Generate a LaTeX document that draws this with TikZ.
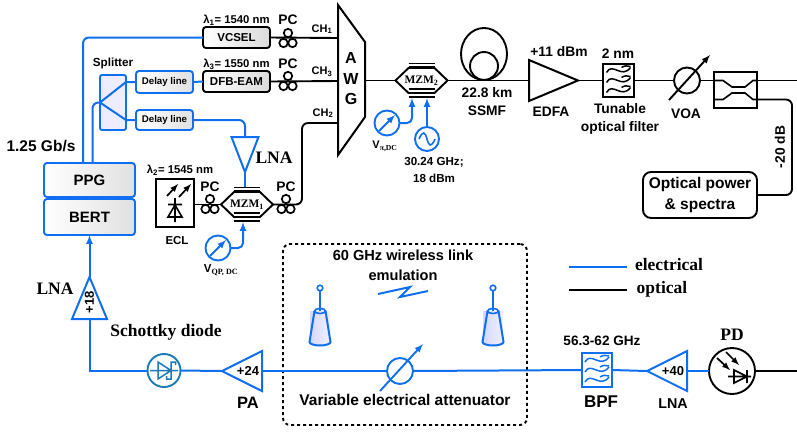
\documentclass[tikz,border=0pt]{standalone}
\usepackage{fontspec}
\setmainfont{Liberation Sans}
\newfontfamily\timesfont{Liberation Serif}
\usetikzlibrary{positioning,shapes.geometric}
\definecolor{elblue}{HTML}{0F6FF0}
\definecolor{diodeblue}{HTML}{1A7ABA}
\tikzset{
    optline/.style={black, line width=1.9pt},
    elline/.style={elblue, line width=2pt},
    ampbox/.style={isosceles triangle, isosceles triangle stretches, draw, line width=2pt, inner sep=0pt, outer sep=0pt},
    devbox/.style={draw, black, line width=1.9pt, rounded corners=3pt, left color=white, right color=black!14, inner sep=0pt, outer sep=0pt},
    elbox/.style={draw=elblue, line width=1.9pt, rounded corners=3pt, left color=white, right color=black!12, inner sep=0pt, outer sep=0pt},
    dialbox/.style={circle, draw, line width=1.9pt, inner sep=0pt, outer sep=0pt},
    labs/.style={inner sep=0pt, font=\bfseries\fontsize{11}{12}\selectfont},
    labm/.style={inner sep=0pt, align=center, font=\bfseries\fontsize{13.8}{18}\selectfont},
    labl/.style={inner sep=0pt, align=center, font=\bfseries\fontsize{15.5}{21}\selectfont},
    labt/.style={inner sep=0pt, font=\timesfont\bfseries\fontsize{17.5}{18}\selectfont},
}
% polarisation controller
\newcommand{\pcoil}[3]{
    \coordinate (#1) at (#2,#3);
    \draw[black, line width=1.7pt] (#2,#3-5) circle[radius=4.2] (#2-4.5,#3+5) circle[radius=4.2] (#2+4.5,#3+5) circle[radius=4.2];
}
% modulator: name, x, y, subscript
\newcommand{\mzm}[4]{
    \node[minimum width=52pt, minimum height=25pt, inner sep=0pt, outer sep=0pt] (#1) at (#2,#3) {\timesfont\bfseries\fontsize{11.5}{12}\selectfont MZM\textsubscript{#4}};
    \draw[black, line width=1.9pt] (#1.west) -- ++(13,-12.5) -- ++(26,0) -- (#1.east) -- ++(-13,12.5) -- ++(-26,0) -- cycle;
    \foreach \yy in {-17,-14,8.5,16.5} \draw[black, line width=1.6pt] (#2-13,#3+\yy) -- (#2+13,#3+\yy);
}
% filter with three waves
\newcommand{\waves}[3]{
    \foreach \yy in {-10,0,10} {
        \draw[#3, line width=1.5pt] (#1-12,#2+\yy+2) .. controls (#1-6,#2+\yy-9) and (#1+3,#2+\yy+9) .. (#1+12,#2+\yy-3);
        \draw[#3, line width=1.5pt] (#1+3,#2+\yy-3) .. controls (#1+6,#2+\yy-5) and (#1+9,#2+\yy-5) .. (#1+12,#2+\yy-4);
    }
}
% horn antenna
\newcommand{\horn}[2]{
    \fill[left color=blue!16!white, right color=blue!6!white] (#1-10,#2) rectangle (#1+10,#2+33);
    \draw[elline] (#1-5.5,#2) -- (#1-10.5,#2+31) arc[start angle=180, end angle=360, x radius=10.5, y radius=-3.5] -- (#1+5.5,#2);
    \draw[elline, line width=1.6pt] (#1,#2) circle[x radius=5.5, y radius=2.5];
    \draw[elline, line width=1.6pt] (#1,#2) -- (#1,#2-20);
    \draw[elline, line width=1.6pt] (#1,#2-23) circle[radius=2.8];
}
\begin{document}
\begin{tikzpicture}[>=latex, x=1pt, y=-1pt]
    \useasboundingbox (0,0) rectangle (797,432);
    % Transmitters
    \node[devbox, minimum width=67pt, minimum height=21pt, font=\bfseries\fontsize{11.5}{12}\selectfont] (vcsel) at (236.5,37.5) {VCSEL};
    \node[devbox, minimum width=67pt, minimum height=21pt, font=\bfseries\fontsize{11.5}{12}\selectfont] (dfb) at (236.5,81.5) {DFB-EAM};
    \node[labs, font=\bfseries\fontsize{11.3}{12}\selectfont] (lab1) at (236.5,20) {λ\textsubscript{1}= 1540 nm};
    \node[labs, font=\bfseries\fontsize{11.3}{12}\selectfont] (lab3) at (236.5,64) {λ\textsubscript{3}= 1550 nm};
    \node[labs, font=\bfseries\fontsize{11.3}{12}\selectfont] (lab2) at (180,170) {λ\textsubscript{2}= 1545 nm};
    \node[labm] (pclab1) at (288,20) {PC};
    \node[labm] (pclab3) at (288,64) {PC};
    \node[labm] (pclab2) at (210,187) {PC};
    \node[labm] (pclab4) at (286,187) {PC};
    \node[labs] (chlab1) at (322,29) {CH\textsubscript{1}};
    \node[labs] (chlab3) at (322,72) {CH\textsubscript{3}};
    \node[labs] (chlab2) at (323,113) {CH\textsubscript{2}};
    \pcoil{pc1}{288}{38}
    \pcoil{pc3}{288}{81}
    \pcoil{pc2}{210}{204}
    \pcoil{pc4}{286}{204}
    % AWG
    \coordinate (awga) at (338,38);
    \coordinate (awgb) at (338,81);
    \coordinate (awgc) at (338,123);
    \coordinate (awgout) at (365,80.5);
    \draw[black, line width=2pt] (338,5) -- (365,42) -- (365,117) -- (338,155) -- cycle;
    \node[labl, font=\bfseries\fontsize{16}{20.5}\selectfont] (awglab) at (351,79) {A\\W\\G};
    \draw[optline] (vcsel.east) -- (awga);
    \draw[optline] (dfb.east) -- (awgb);
    % PPG and BERT
    \node[elbox, minimum width=91pt, minimum height=34pt, font=\bfseries\fontsize{15}{15}\selectfont] (ppg) at (89.5,180) {PPG};
    \node[elbox, minimum width=91pt, minimum height=36pt, font=\bfseries\fontsize{15}{15}\selectfont] (bert) at (89.5,217) {BERT};
    \node[labl] (rate) at (41,146) {1.25 Gb/s};
    % Splitter and delay lines
    \node[elbox, left color=blue!7!white, right color=blue!7!white, minimum width=26pt, minimum height=55pt, rounded corners=2pt] (split) at (113,102.5) {};
    \node[labs, font=\bfseries\fontsize{11.7}{12}\selectfont] (splitlab) at (113,63) {Splitter};
    \node[elbox, minimum width=57pt, minimum height=22pt, font=\bfseries\fontsize{9.7}{10}\selectfont] (dlya) at (164.5,82) {Delay line};
    \node[elbox, minimum width=57pt, minimum height=20pt, font=\bfseries\fontsize{9.7}{10}\selectfont] (dlyb) at (164.5,120) {Delay line};
    \draw[elline, rounded corners=6pt] (vcsel.west) -| ([xshift=-6.5pt]ppg.north);
    \draw[elline, rounded corners=6pt] ([xshift=3pt]ppg.north) |- (split.west);
    \draw[elline] (split.west) -- (split.east |- dlya.west) -- (dlya.west);
    \draw[elline] (split.west) -- (split.east |- dlyb.west) -- (dlyb.west);
    \draw[elline] (dlya.east) -- (dfb.west);
    % Driver of MZM1
    \node[ampbox, draw=elblue, shape border rotate=-90, minimum height=35pt, minimum width=27pt, anchor=apex] (lnaa) at (245,172) {};
    \node[labt] (lnaalab) at (274,158) {LNA};
    \draw[elline, rounded corners=6pt] (dlyb.east) -| (lnaa.lower side);
    \mzm{mzma}{247}{204.5}{1}
    \coordinate (mzmatop) at (245,187);
    \draw[elline] (lnaa.apex) -- (mzmatop);
    % ECL
    \node[draw, black, line width=2.2pt, minimum width=38pt, minimum height=48pt, inner sep=0pt, outer sep=0pt] (ecl) at (175,203) {};
    \node[labs, font=\bfseries\fontsize{11.5}{12}\selectfont] (ecllab) at (177,241) {ECL};
    \draw[->, black, line width=1.7pt] (167,196) -- (178,184);
    \draw[->, black, line width=1.7pt] (179,197) -- (191,184);
    \draw[black, line width=1.6pt] (175,198) -- (175,222) (168,204.5) -- (182,204.5) (175,205) -- (168,217) -- (182,217) -- cycle;
    \draw[optline] (ecl.east |- mzma.west) -- (mzma.west);
    \coordinate (mzmabend) at (302,204.5);
    \draw[optline, rounded corners=6pt] (mzma.east) -- (mzmabend) |- (awgc);
    % Bias of MZM1
    \node[dialbox, draw=elblue, minimum size=25pt] (vqp) at (218,248) {};
    \draw[->, elblue, line width=1.9pt] (210,256) -- (226,240);
    \coordinate (mzmabias) at (243,222);
    \draw[->, elline, rounded corners=5pt] (vqp.east) -| (mzmabias);
    \node[inner sep=0pt] (vqplab) at (221,270) {\bfseries\fontsize{11.5}{12}\selectfont V\textsubscript{\timesfont QP, DC}};
    % MZM2 and its drive
    \mzm{mzmb}{421.5}{80.5}{2}
    \draw[optline] (awgout) -- (mzmb.west);
    \node[dialbox, draw=elblue, minimum size=25pt] (vpi) at (387,123) {};
    \draw[->, elblue, line width=1.9pt] (379,131) -- (395,115);
    \coordinate (mzmbbias) at (412,98);
    \draw[->, elline, rounded corners=5pt] (vpi.east) -| (mzmbbias);
    \node[inner sep=0pt] (vpilab) at (385,146) {\bfseries\fontsize{11}{12}\selectfont V\textsubscript{\timesfont π,DC}};
    \node[dialbox, draw=elblue, minimum size=24pt] (osc) at (427,139) {};
    \draw[elline, line width=1.6pt] (419,139) .. controls (423,130) and (425,132) .. (427,139) .. controls (429,146) and (431,148) .. (435,139);
    \coordinate (mzmbrf) at (427,98);
    \draw[->, elline] (osc.north) -- (mzmbrf);
    \node[labs, align=center, font=\bfseries\fontsize{11.6}{16.5}\selectfont] (osclab) at (434,170) {30.24 GHz;\\18 dBm};
    % Fibre span and EDFA
    \coordinate (ssmfc) at (484,54);
    \draw[black, line width=1.9pt] (ssmfc) circle[x radius=23, y radius=26];
    \draw[black, line width=1.9pt] (484,66) circle[radius=14];
    \node[labm] (ssmflab) at (487,102) {22.8 km\\SSMF};
    \node[ampbox, black, shape border rotate=0, minimum height=49pt, minimum width=41pt, anchor=apex] (edfa) at (578,80.5) {};
    \node[labm] (edfapow) at (559,52) {+11 dBm};
    \node[labm] (edfalab) at (551,112) {EDFA};
    \draw[optline] (mzmb.east) -- (edfa.lower side);
    % Filter, VOA and coupler
    \node[draw, black, line width=1.9pt, minimum width=31pt, minimum height=33pt, inner sep=0pt, outer sep=0pt] (tof) at (618.5,80.5) {};
    \waves{618.5}{80.5}{black}
    \node[labm] (toflab) at (618,54) {2 nm};
    \node[labm] (toflabb) at (620,119) {Tunable\\optical filter};
    \node[dialbox, black, minimum size=26pt] (voa) at (687,80.5) {};
    \draw[->, black, line width=1.9pt] (669,100) -- (710,55);
    \node[labm] (voalab) at (686,114) {VOA};
    \node[draw, black, line width=1.9pt, minimum width=43pt, minimum height=36pt, inner sep=0pt, outer sep=0pt] (coup) at (735.5,90) {};
    \coordinate (coupa) at (757,80.5);
    \coordinate (coupb) at (757,99.5);
    \coordinate (coupc) at (797,80.5);
    \coordinate (coupd) at (792,99.5);
    \draw[black, line width=1.6pt] (714,80.5) -- (723,80.5) -- (732,87) -- (745,87) -- (753,80.5) -- (coupa);
    \draw[black, line width=1.6pt] (714,99.5) -- (723,99.5) -- (732,93) -- (745,93) -- (753,99.5) -- (coupb);
    \draw[optline] (edfa.apex) -- (tof.west);
    \draw[optline] (tof.east) -- (voa.west);
    \draw[optline] (voa.east) -- (coup.west |- voa.east);
    \draw[optline] (coupa) -- (coupc);
    % Monitor
    \node[draw, black, line width=1.9pt, rounded corners=8pt, minimum width=114pt, minimum height=46pt, inner sep=0pt, outer sep=0pt, align=center, font=\bfseries\fontsize{15.5}{21}\selectfont] (optp) at (700,195) {Optical power\\\& spectra};
    \draw[optline, rounded corners=6pt] (coupb) -- (coupd) |- (optp.east);
    \node[labm, rotate=90] (mondb) at (780,147) {-20 dB};
    % Wireless link emulation
    \node[draw, black, line width=1.9pt, dash pattern=on 3pt off 3pt, rounded corners=7pt, minimum width=244pt, minimum height=181pt, inner sep=0pt, outer sep=0pt] (wbox) at (405,334.5) {};
    \node[labm, font=\bfseries\fontsize{14.6}{20}\selectfont] (wlab) at (403,265) {60 GHz wireless link\\emulation};
    \draw[elline] (378,294) -- (410,287) -- (400,297) -- (428,291);
    \horn{320}{311}
    \horn{493}{311}
    % Receiver chain
    \node[dialbox, black, minimum size=46pt] (pd) at (732,371) {};
    \node[labt] (pdlab) at (732,335) {PD};
    \draw[->, black, line width=1.7pt] (717,358) -- (730,370);
    \draw[->, black, line width=1.7pt] (726,352) -- (739,365);
    \draw[black, line width=1.6pt] (728,376.5) -- (751,376.5) (734,370) -- (734,383) -- (747,376.5) -- cycle (747,370) -- (747,383);
    \coordinate (pdout) at (797,371);
    \draw[optline] (pd.east) -- (pdout);
    \node[ampbox, draw=elblue, shape border rotate=180, minimum height=40pt, minimum width=40pt, anchor=apex] (lnab) at (647,371) {};
    \node[inner sep=0pt, font=\bfseries\fontsize{13}{13}\selectfont] (lnabgain) at (673,371) {+40};
    \node[labm, font=\bfseries\fontsize{14.3}{15}\selectfont] (lnablab) at (673,404) {LNA};
    \node[draw=elblue, line width=1.9pt, minimum width=30pt, minimum height=34pt, inner sep=0pt, outer sep=0pt] (bpf) at (597,370) {};
    \waves{597}{370}{elblue}
    \node[labs, font=\bfseries\fontsize{13.6}{14}\selectfont] (bpfband) at (602,341) {56.3-62 GHz};
    \node[labl, font=\bfseries\fontsize{17}{17}\selectfont] (bpflab) at (601,402) {BPF};
    \node[dialbox, draw=elblue, minimum size=26pt] (vatt) at (400,371) {};
    \draw[->, elblue, line width=1.9pt] (380,391) -- (423,344);
    \node[labl] (vattlab) at (405,400) {Variable electrical attenuator};
    \node[ampbox, draw=elblue, shape border rotate=180, minimum height=40pt, minimum width=40pt, anchor=apex] (pa) at (222,371) {};
    \node[inner sep=0pt, font=\bfseries\fontsize{13}{13}\selectfont] (pagain) at (248,371) {+24};
    \node[labl, font=\bfseries\fontsize{16.5}{17}\selectfont] (palab) at (248,403) {PA};
    \node[dialbox, draw=diodeblue, minimum size=33pt] (sch) at (164,370.5) {};
    \draw[diodeblue, line width=1.5pt] (150,370.5) -- (178,370.5) (158,362) -- (158,379) -- (171,370.5) -- cycle (175.5,365) -- (175.5,362) -- (171,362) -- (171,379) -- (166.5,379) -- (166.5,376);
    \node[labt] (schlab) at (166,332) {Schottky diode};
    \node[ampbox, draw=elblue, shape border rotate=90, minimum height=42pt, minimum width=35pt, anchor=apex] (lnac) at (89.5,277) {};
    \node[inner sep=0pt, rotate=90, font=\bfseries\fontsize{13}{13}\selectfont] (lnacgain) at (89.5,302) {+18};
    \node[labt] (lnaclab) at (55,289) {LNA};
    \draw[elline] (pd.west) -- (lnab.lower side);
    \draw[elline] (lnab.apex) -- (bpf.east);
    \draw[elline] (bpf.west) -- (vatt.east);
    \draw[elline] (vatt.west) -- (pa.lower side);
    \draw[elline] (pa.apex) -- (sch.east);
    \draw[elline] (sch.west) -| (lnac.lower side);
    \draw[->, elline] (lnac.apex) -- (bert.south);
    % Legend
    \coordinate (lega) at (569,267);
    \coordinate (legb) at (627,267);
    \coordinate (legc) at (569,290);
    \coordinate (legd) at (627,290);
    \draw[elline] (lega) -- (legb);
    \draw[optline] (legc) -- (legd);
    \node[labt] (leglabe) at (669,265) {electrical};
    \node[labt] (leglabo) at (662,289) {optical};
\end{tikzpicture}
\end{document}
